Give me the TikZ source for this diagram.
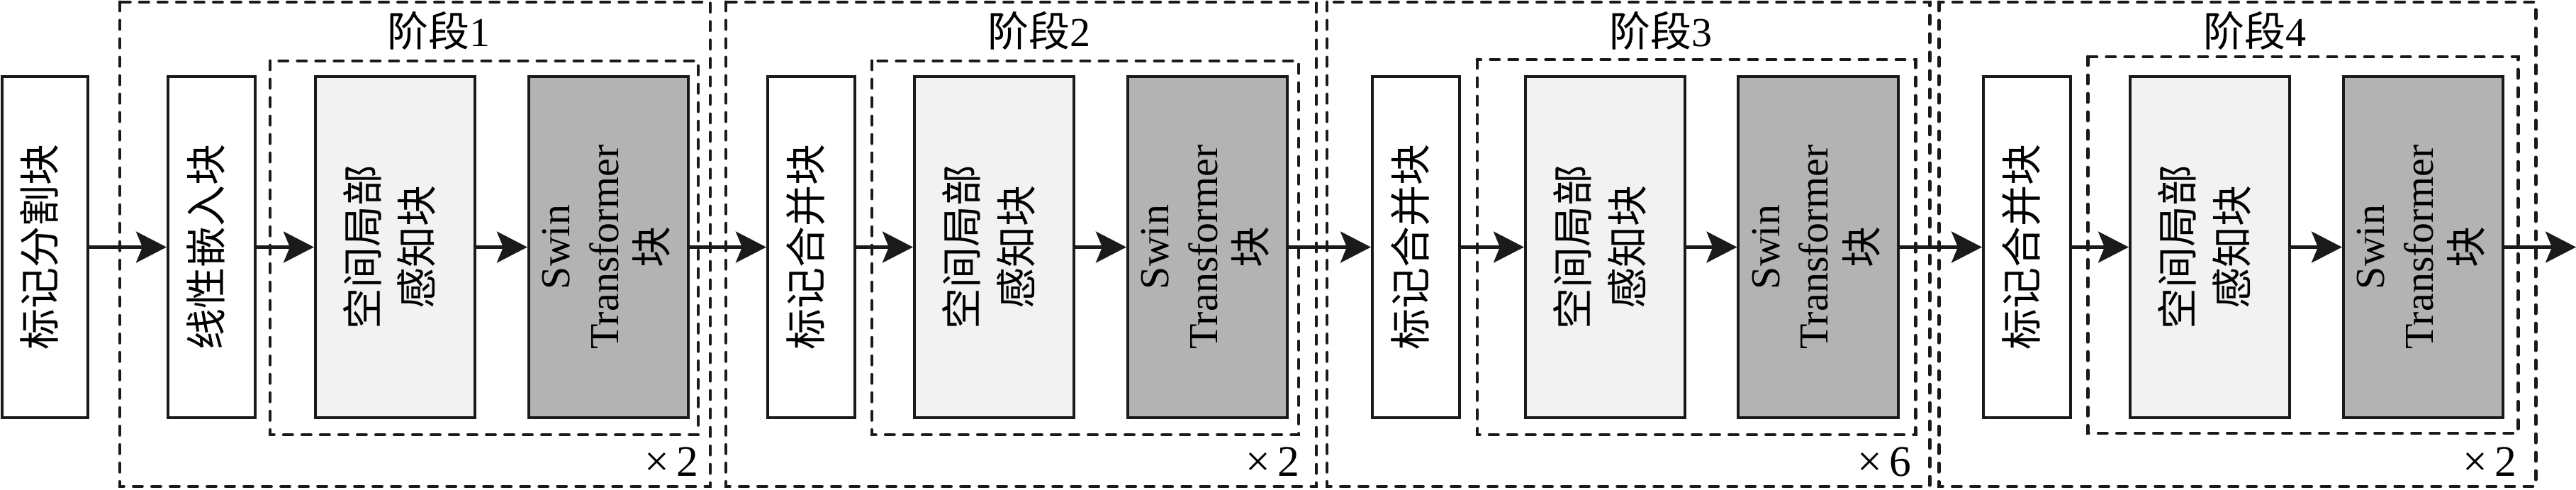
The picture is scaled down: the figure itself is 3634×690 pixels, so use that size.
\documentclass[tikz,border=0pt]{standalone}
\usepackage{fontspec}
\setmainfont{Liberation Serif}
\newfontfamily\cjk{Noto Sans CJK SC}
\usetikzlibrary{arrows.meta}
\definecolor{lightfill}{HTML}{F2F2F2}
\definecolor{darkfill}{HTML}{B3B3B3}
\definecolor{ink}{HTML}{1A1A1A}
\newcommand{\vtxt}[1]{\rotatebox[origin=c]{90}{\begin{tabular}{@{}c@{}}#1\end{tabular}}}
\begin{document}
\begin{tikzpicture}[x=0.01cm,y=-0.01cm,
  every node/.style={font=\fontsize{16.5pt}{19.5pt}\selectfont},
  blk/.style={draw=ink,line width=1.15pt,minimum height=4.81cm,inner sep=0pt,anchor=center},
  narrow/.style={blk,minimum width=1.23cm,fill=white},
  spat/.style={blk,minimum width=2.25cm,fill=lightfill},
  swin/.style={blk,minimum width=2.25cm,fill=darkfill},
  arr/.style={draw=ink,line width=1.15pt,-{Stealth[length=0.43cm,width=0.44cm,inset=0.09cm]}},
  dbox/.style={draw=ink,line width=1.4pt,line cap=round,dash pattern=on 0.12cm off 0.14cm},
  lbl/.style={inner sep=0pt,anchor=center}
]
\useasboundingbox (0,0) rectangle (3634,690);
% outer stage frames
\draw[dbox] (169,3) rectangle (1002,686);
\draw[dbox] (1024,3) rectangle (1857,686);
\draw[dbox] (1872,3) rectangle (2722,686);
\draw[dbox] (2735,3) rectangle (3577,686);
% inner repeated frames
\draw[dbox] (381,86) rectangle (985,613);
\draw[dbox] (1230,86) rectangle (1832,613);
\draw[dbox] (2084,84) rectangle (2702,613);
\draw[dbox] (2945,80) rectangle (3552,611);
% blocks
\node[narrow,minimum width=1.21cm] (b1) at (63.5,348.5) {\vtxt{\cjk 标记分割块}};
\node[narrow] (e1) at (298.5,348.5) {\vtxt{\cjk 线性嵌入块}};
\node[spat] (s1) at (557.5,348.5) {\vtxt{\cjk 空间局部\\[2pt]\cjk 感知块}};
\node[swin] (w1) at (858.5,348.5) {\vtxt{Swin\\Transformer\\{\cjk 块}}};
\node[narrow] (m2) at (1144.5,348.5) {\vtxt{\cjk 标记合并块}};
\node[spat] (s2) at (1402.5,348.5) {\vtxt{\cjk 空间局部\\[2pt]\cjk 感知块}};
\node[swin] (w2) at (1703.5,348.5) {\vtxt{Swin\\Transformer\\{\cjk 块}}};
\node[narrow] (m3) at (1997.5,348.5) {\vtxt{\cjk 标记合并块}};
\node[spat] (s3) at (2264.5,348.5) {\vtxt{\cjk 空间局部\\[2pt]\cjk 感知块}};
\node[swin] (w3) at (2565,348.5) {\vtxt{Swin\\Transformer\\{\cjk 块}}};
\node[narrow] (m4) at (2859.5,348.5) {\vtxt{\cjk 标记合并块}};
\node[spat] (s4) at (3117.5,348.5) {\vtxt{\cjk 空间局部\\[2pt]\cjk 感知块}};
\node[swin] (w4) at (3418.5,348.5) {\vtxt{Swin\\Transformer\\{\cjk 块}}};
\coordinate (out) at (3634,348.5);
% labels
\node[lbl] (t1) at (619,43) {{\cjk 阶段}1};
\node[lbl] (t2) at (1466,43) {{\cjk 阶段}2};
\node[lbl] (t3) at (2343,43) {{\cjk 阶段}3};
\node[lbl] (t4) at (3181,43) {{\cjk 阶段}4};
\node[lbl,font=\fontsize{17.5pt}{20pt}\selectfont] (r1) at (947,651) {×\,2};
\node[lbl,font=\fontsize{17.5pt}{20pt}\selectfont] (r2) at (1795,651) {×\,2};
\node[lbl,font=\fontsize{17.5pt}{20pt}\selectfont] (r3) at (2658,651) {×\,6};
\node[lbl,font=\fontsize{17.5pt}{20pt}\selectfont] (r4) at (3512,651) {×\,2};
% connectors
\draw[arr] (b1) -- (e1);
\draw[arr] (e1) -- (s1);
\draw[arr] (s1) -- (w1);
\draw[arr] (w1) -- (m2);
\draw[arr] (m2) -- (s2);
\draw[arr] (s2) -- (w2);
\draw[arr] (w2) -- (m3);
\draw[arr] (m3) -- (s3);
\draw[arr] (s3) -- (w3);
\draw[arr] (w3) -- (m4);
\draw[arr] (m4) -- (s4);
\draw[arr] (s4) -- (w4);
\draw[arr] (w4) -- (out);
\end{tikzpicture}
\end{document}
